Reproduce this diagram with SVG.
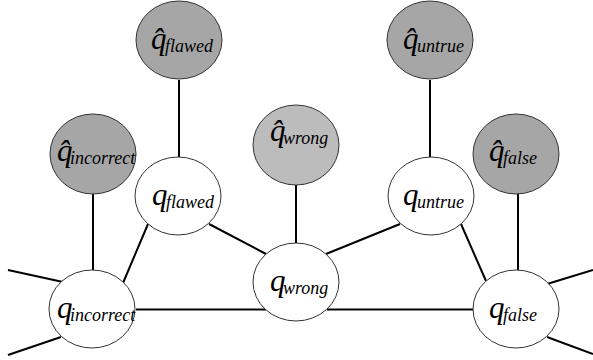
<svg xmlns="http://www.w3.org/2000/svg" width="593" height="360" viewBox="0 0 593 360">
<style>
.n{stroke:#333;stroke-width:1}
.w{fill:#fff}
.d{fill:#a6a6a6}
.l{fill:#bcbcbc}
.q{font-family:"Liberation Serif",serif;font-style:italic;font-size:31px;fill:#000}
.s{font-family:"Liberation Serif",serif;font-style:italic;font-size:18px;fill:#000}
#edges line{stroke:#000;stroke-width:2}
</style>
<rect width="593" height="360" fill="#fff"/>
<g id="edges">
<line x1="179" y1="80" x2="179" y2="157"/>
<line x1="93" y1="193" x2="93" y2="270"/>
<line x1="296" y1="185" x2="296" y2="243"/>
<line x1="430" y1="80" x2="430" y2="157"/>
<line x1="518" y1="193" x2="518" y2="270"/>
<line x1="123" y1="283" x2="148" y2="224"/>
<line x1="209" y1="224" x2="266" y2="254"/>
<line x1="136" y1="309.5" x2="266" y2="309.5"/>
<line x1="327" y1="309.5" x2="474" y2="309.5"/>
<line x1="326" y1="254" x2="400" y2="224"/>
<line x1="461" y1="224" x2="486" y2="281"/>
<line x1="8" y1="270" x2="63" y2="282"/>
<line x1="8" y1="355" x2="61" y2="337"/>
<line x1="593" y1="270" x2="547" y2="284"/>
<line x1="593" y1="354" x2="547" y2="337"/>
</g>
<g id="qhat_flawed">
<ellipse class="n d" cx="179" cy="40" rx="43" ry="39"/>
<text class="q" x="151" y="49">q̂</text>
<text class="s" x="165" y="52">flawed</text>
</g>
<g id="qhat_incorrect">
<ellipse class="n d" cx="93" cy="154" rx="43" ry="40"/>
<text class="q" x="57" y="161">q̂</text>
<text class="s" x="70" y="164">incorrect</text>
</g>
<g id="qhat_wrong">
<ellipse class="n l" cx="296" cy="145" rx="43" ry="40"/>
<text class="q" x="270" y="141">q̂</text>
<text class="s" x="283" y="144">wrong</text>
</g>
<g id="qhat_untrue">
<ellipse class="n d" cx="430" cy="40" rx="43" ry="39"/>
<text class="q" x="403" y="49">q̂</text>
<text class="s" x="417" y="52">untrue</text>
</g>
<g id="qhat_false">
<ellipse class="n d" cx="516" cy="154" rx="43" ry="40"/>
<text class="q" x="489" y="161">q̂</text>
<text class="s" x="503" y="164">false</text>
</g>
<g id="q_flawed">
<ellipse class="n w" cx="178" cy="196" rx="43" ry="39"/>
<text class="q" x="152" y="205">q</text>
<text class="s" x="166" y="208">flawed</text>
</g>
<g id="q_incorrect">
<ellipse class="n w" cx="92" cy="309" rx="43" ry="39"/>
<text class="q" x="57" y="318">q</text>
<text class="s" x="70" y="321">incorrect</text>
</g>
<g id="q_wrong">
<ellipse class="n w" cx="296" cy="282" rx="43" ry="39"/>
<text class="q" x="270" y="291">q</text>
<text class="s" x="283" y="294">wrong</text>
</g>
<g id="q_untrue">
<ellipse class="n w" cx="431" cy="196" rx="43" ry="39"/>
<text class="q" x="403" y="205">q</text>
<text class="s" x="417" y="208">untrue</text>
</g>
<g id="q_false">
<ellipse class="n w" cx="516" cy="309" rx="43" ry="39"/>
<text class="q" x="489" y="318">q</text>
<text class="s" x="503" y="321">false</text>
</g>
</svg>
